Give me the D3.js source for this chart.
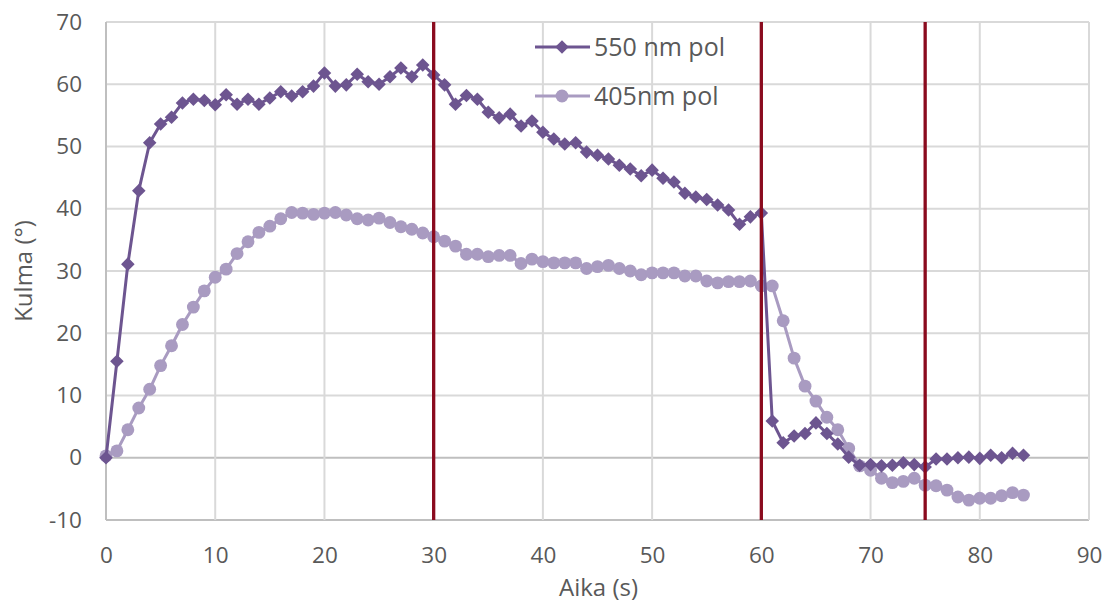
<!DOCTYPE html>
<html>
<head>
<meta charset="utf-8">
<script src="https://cdn.jsdelivr.net/npm/d3@7"></script>
<style>
  html, body { margin: 0; padding: 0; background: #fff; }
  svg { display: block; font-family: "Open Sans", "DejaVu Sans", sans-serif; }
</style>
</head>
<body>
<svg id="chart" width="1111" height="603"></svg>
<script>
// Time in seconds, one sample per second
const times = d3.range(0, 85);

// Angle (degrees) measured with the 550 nm polarizer
const series550 = [
  0.0, 15.5, 31.1, 42.9, 50.6, 53.6, 54.7, 57.0, 57.6, 57.4,
  56.7, 58.3, 56.8, 57.6, 56.8, 57.8, 58.8, 58.1, 58.8, 59.7,
  61.8, 59.7, 59.9, 61.6, 60.4, 60.0, 61.2, 62.6, 61.2, 63.1,
  61.5, 59.9, 56.8, 58.2, 57.6, 55.5, 54.6, 55.2, 53.3, 54.1,
  52.3, 51.2, 50.4, 50.6, 49.1, 48.6, 48.0, 47.0, 46.4, 45.3,
  46.2, 44.9, 44.3, 42.5, 41.9, 41.5, 40.6, 39.8, 37.5, 38.7,
  39.3, 5.9, 2.4, 3.5, 3.9, 5.6, 3.9, 2.2, 0.1, -1.2,
  -1.1, -1.3, -1.2, -0.8, -1.1, -1.5, -0.2, -0.2, 0.0, 0.1,
  -0.1, 0.4, 0.0, 0.7, 0.4
];

// Angle (degrees) measured with the 405 nm polarizer
const series405 = [
  0.3, 1.1, 4.5, 8.0, 11.0, 14.8, 18.0, 21.4, 24.2, 26.8,
  29.0, 30.3, 32.8, 34.7, 36.2, 37.2, 38.4, 39.4, 39.3, 39.1,
  39.3, 39.4, 39.0, 38.4, 38.2, 38.5, 37.8, 37.1, 36.7, 36.1,
  35.5, 34.8, 34.0, 32.7, 32.7, 32.3, 32.5, 32.5, 31.2, 31.9,
  31.5, 31.3, 31.3, 31.3, 30.4, 30.7, 30.9, 30.4, 30.0, 29.4,
  29.7, 29.7, 29.7, 29.2, 29.2, 28.4, 28.1, 28.3, 28.3, 28.4,
  27.6, 27.6, 22.0, 16.0, 11.5, 9.1, 6.5, 4.5, 1.5, -1.3,
  -2.0, -3.3, -4.0, -3.8, -3.3, -4.4, -4.5, -5.2, -6.3, -6.8,
  -6.5, -6.5, -6.1, -5.6, -6.0
];

const seriesNames = ["550 nm pol", "405nm pol"];
const seriesColors = ["#6D5590", "#A99BC1"];

// Phase boundaries (s)
const markerTimes = [30, 60, 75];

const xTicks = d3.range(0, 91, 10);
const yTicks = d3.range(-10, 71, 10);

const svg = d3.select("#chart");
const plot = { left: 106, right: 1089, top: 22, bottom: 520 };

const x = d3.scaleLinear().domain([0, 90]).range([plot.left, plot.right]);
const y = d3.scaleLinear().domain([-10, 70]).range([plot.bottom, plot.top]);

const textColor = "#595959";

// Gridlines
const grid = svg.append("g");
grid.selectAll("line.h").data(yTicks).join("line")
  .attr("x1", plot.left).attr("x2", plot.right)
  .attr("y1", d => y(d)).attr("y2", d => y(d))
  .attr("stroke", d => (d === 0 || d === -10) ? "#BFBFBF" : "#D9D9D9")
  .attr("stroke-width", 2);
grid.selectAll("line.v").data(xTicks).join("line")
  .attr("x1", d => x(d)).attr("x2", d => x(d))
  .attr("y1", plot.top).attr("y2", plot.bottom)
  .attr("stroke", d => d === 0 ? "#BFBFBF" : "#D9D9D9")
  .attr("stroke-width", 2);

// Axes (labels only; lines come from the grid)
const yAxis = svg.append("g")
  .attr("transform", `translate(${plot.left},0)`)
  .call(d3.axisLeft(y).tickValues(yTicks).tickFormat(d => String(d)).tickSize(0).tickPadding(24));
yAxis.select(".domain").remove();
yAxis.selectAll("text")
  .attr("fill", textColor)
  .style("font-size", "22.5px")
  .style("font-family", "\"Open Sans\", sans-serif");

const xAxis = svg.append("g")
  .attr("transform", `translate(0,${plot.bottom})`)
  .call(d3.axisBottom(x).tickValues(xTicks).tickFormat(d => String(d)).tickSize(0).tickPadding(27));
xAxis.select(".domain").remove();
xAxis.selectAll("text")
  .attr("fill", textColor)
  .style("font-size", "22.5px")
  .style("font-family", "\"Open Sans\", sans-serif");

// Axis titles
svg.append("text")
  .attr("x", x(45) + 1)
  .attr("y", 596)
  .attr("text-anchor", "middle")
  .attr("fill", textColor)
  .style("font-size", "24px")
  .text("Aika (s)");

svg.append("text")
  .attr("transform", `translate(32,${(plot.top + plot.bottom) / 2}) rotate(-90)`)
  .attr("text-anchor", "middle")
  .attr("fill", textColor)
  .style("font-size", "24px")
  .text("Kulma (°)");

// Series
const line = d3.line().x((d, i) => x(times[i])).y(d => y(d));

function markerPath(shape) {
  return d3.symbol()
    .type(shape === "diamond" ? d3.symbolSquare : d3.symbolCircle)
    .size(shape === "diamond" ? 92 : 130)();
}

function drawSeries(values, color, shape) {
  const g = svg.append("g");
  g.append("path")
    .datum(values)
    .attr("d", line)
    .attr("fill", "none")
    .attr("stroke", color)
    .attr("stroke-width", 3)
    .attr("stroke-linejoin", "round");
  g.selectAll("path.m").data(values).join("path")
    .attr("class", "m")
    .attr("d", markerPath(shape))
    .attr("fill", color)
    .attr("transform", (d, i) => `translate(${x(times[i])},${y(d)})` + (shape === "diamond" ? " rotate(45)" : ""));
}

drawSeries(series405, seriesColors[1], "circle");
drawSeries(series550, seriesColors[0], "diamond");

// Phase boundary lines
svg.append("g").selectAll("line").data(markerTimes).join("line")
  .attr("x1", d => x(d)).attr("x2", d => x(d))
  .attr("y1", plot.top).attr("y2", plot.bottom)
  .attr("stroke", "#8A0B1E")
  .attr("stroke-width", 3.3);

// Legend
const legend = svg.append("g");
const legendItems = [
  { name: seriesNames[0], color: seriesColors[0], shape: "diamond", yPos: 47 },
  { name: seriesNames[1], color: seriesColors[1], shape: "circle", yPos: 96 }
];
legendItems.forEach(it => {
  legend.append("line")
    .attr("x1", 535).attr("x2", 590)
    .attr("y1", it.yPos).attr("y2", it.yPos)
    .attr("stroke", it.color).attr("stroke-width", 3);
  legend.append("path")
    .attr("d", markerPath(it.shape))
    .attr("fill", it.color)
    .attr("transform", `translate(562,${it.yPos})` + (it.shape === "diamond" ? " rotate(45)" : ""));
  legend.append("text")
    .attr("x", 594).attr("y", it.yPos)
    .attr("dy", "0.36em")
    .attr("fill", textColor)
    .style("font-size", "25px")
    .text(it.name);
});
</script>
</body>
</html>
